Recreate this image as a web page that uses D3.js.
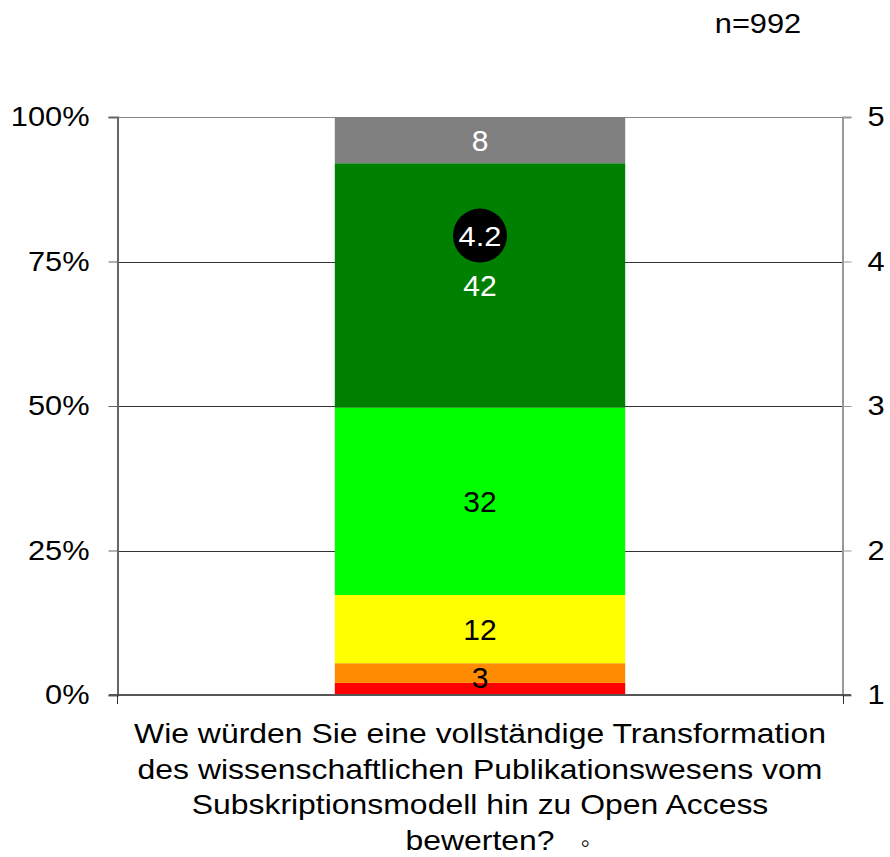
<!DOCTYPE html>
<html lang="de">
  <head>
    <meta charset="UTF-8" />
    <title>Open Access Bewertung</title>
    <script src="https://cdn.jsdelivr.net/npm/d3@7"></script>
    <style>
      body { margin: 0; background: #fff; }
      text { font-family: 'Liberation Sans', Arial, sans-serif; }
    </style>
  </head>
  <body>
    <div id="chart"></div>
    <script>
      // data
      const categories = ['Wie würden Sie eine vollständige Transformation|des wissenschaftlichen Publikationswesens vom|Subskriptionsmodell hin zu Open Access|bewerten?']
      const categoryMark = '\u25E6'
      const levels = ['1', '2', '3', '4', '5', 'k.A.']
      const shares = [2.1, 3.4, 11.8, 32.4, 42.3, 8.0]
      const labels = ['', '3', '12', '32', '42', '8']
      const means = [4.2]
      const percentTicks = [0, 25, 50, 75, 100]
      const scoreTicks = [1, 2, 3, 4, 5]
      const sampleSize = 992

      const colors = ['#ff0000', '#ff8c00', '#ffff00', '#00ff00', '#008000', '#808080']
      const labelColors = ['#000', '#000', '#000', '#000', '#fff', '#fff']

      const width = 890
      const height = 857
      const m = { top: 117, right: 47, bottom: 162, left: 117 }
      const stretchX = 1.14 // text in the source is drawn a bit wide

      // widen text horizontally, anchor kept
      function stretch(sel, f = stretchX) {
        sel.each(function () {
          const len = this.getComputedTextLength()
          d3.select(this).attr('textLength', len * f).attr('lengthAdjust', 'spacingAndGlyphs')
        })
      }

      const svg = d3.select('#chart').append('svg')
        .attr('width', width)
        .attr('height', height)

      const x = d3.scaleBand()
        .domain(categories)
        .range([m.left, width - m.right])
        .paddingInner(0.5)
        .paddingOuter(0.375)

      const y = d3.scaleLinear().domain([0, 100]).range([height - m.bottom, m.top])
      const y2 = d3.scaleLinear().domain([1, 5]).range([height - m.bottom, m.top])

      // grid lines
      svg.append('g')
        .selectAll('line')
        .data(percentTicks.slice(1))
        .join('line')
        .attr('x1', m.left)
        .attr('x2', width - m.right)
        .attr('y1', d => Math.round(y(d)) + 0.5)
        .attr('y2', d => Math.round(y(d)) + 0.5)
        .attr('stroke', d => (d === 100 ? '#888' : '#333'))
        .attr('stroke-width', 1)

      // stacked bar
      const stackRow = {}
      levels.forEach((k, i) => (stackRow[k] = shares[i]))
      const series = d3.stack().keys(levels)([stackRow])

      const cat = categories[0]
      const cx = x(cat) + x.bandwidth() / 2
      svg.append('g')
        .selectAll('rect')
        .data(series)
        .join('rect')
        .attr('x', x(cat))
        .attr('width', x.bandwidth())
        .attr('y', d => y(d[0][1]))
        .attr('height', d => y(d[0][0]) - y(d[0][1]))
        .attr('fill', (d, i) => colors[i])

      svg.append('g')
        .selectAll('text')
        .data(series)
        .join('text')
        .attr('x', cx)
        .attr('y', d => (y(d[0][0]) + y(d[0][1])) / 2)
        .attr('dy', (d, i) => (i === 1 ? '0.5em' : '0.36em'))
        .attr('text-anchor', 'middle')
        .attr('font-size', 30)
        .attr('fill', (d, i) => labelColors[i])
        .text((d, i) => labels[i])

      // mean marker on the right scale
      const mean = svg.append('g')
        .attr('transform', `translate(${cx},${y2(means[0]) + 3})`)
      mean.append('circle').attr('r', 27).attr('fill', '#000')
      mean.append('text')
        .attr('text-anchor', 'middle')
        .attr('dy', '0.36em')
        .attr('font-size', 28)
        .attr('fill', '#fff')
        .text(d3.format('.1f')(means[0]))
        .call(stretch, 1.1)

      // left axis
      const axL = svg.append('g')
        .attr('transform', `translate(${m.left + 0.5},0)`)
        .call(d3.axisLeft(y).tickValues(percentTicks).tickFormat(d => d + '%').tickSize(9).tickPadding(19))
      axL.select('.domain').attr('stroke', '#666').attr('stroke-width', 2)
      axL.selectAll('.tick line').attr('stroke', '#666')
      axL.selectAll('.tick text').attr('font-size', 27).attr('fill', '#000')
        .attr('font-family', "'Liberation Sans', Arial, sans-serif")
        .call(stretch)

      // right axis
      const axR = svg.append('g')
        .attr('transform', `translate(${width - m.right - 0.5},0)`)
        .call(d3.axisRight(y2).tickValues(scoreTicks).tickFormat(d3.format('d')).tickSize(9).tickPadding(16))
      axR.select('.domain').attr('stroke', '#999').attr('stroke-width', 2)
      axR.selectAll('.tick line').attr('stroke', '#999')
      axR.selectAll('.tick text').attr('font-size', 27).attr('fill', '#000')
        .attr('font-family', "'Liberation Sans', Arial, sans-serif")
        .call(stretch)

      // baseline with category ticks
      const base = svg.append('g')
        .attr('transform', `translate(0,${height - m.bottom})`)
      base.append('line')
        .attr('x1', m.left - 8)
        .attr('x2', width - m.right + 8)
        .attr('stroke', '#555')
        .attr('stroke-width', 2)
      base.selectAll('.ct')
        .data([m.left, width - m.right])
        .join('line')
        .attr('x1', d => d + 0.5)
        .attr('x2', d => d + 0.5)
        .attr('y1', 0)
        .attr('y2', 9)
        .attr('stroke', '#333')

      // category label
      const lines = cat.split('|')
      const catText = svg.append('g')
        .selectAll('text')
        .data(lines)
        .join('text')
        .attr('x', cx)
        .attr('y', (d, i) => 743 + i * 35.7)
        .attr('text-anchor', 'middle')
        .attr('font-size', 28)
        .attr('fill', '#000')
        .text(d => d)
        .call(stretch)

      const lastLine = catText.filter((d, i) => i === lines.length - 1).node()
      const lastW = lastLine.getComputedTextLength() * stretchX
      svg.append('text')
        .attr('x', cx + lastW / 2 + 20)
        .attr('y', 743 + (lines.length - 1) * 35.7 + 2)
        .attr('text-anchor', 'middle')
        .attr('font-size', 27)
        .attr('fill', '#000')
        .attr('font-family', "'DejaVu Sans', sans-serif")
        .text(categoryMark)

      // sample size
      svg.append('text')
        .attr('x', 758)
        .attr('y', 33)
        .attr('text-anchor', 'middle')
        .attr('font-size', 27)
        .attr('fill', '#000')
        .text('n=' + sampleSize)
        .call(stretch)
    </script>
  </body>
</html>
